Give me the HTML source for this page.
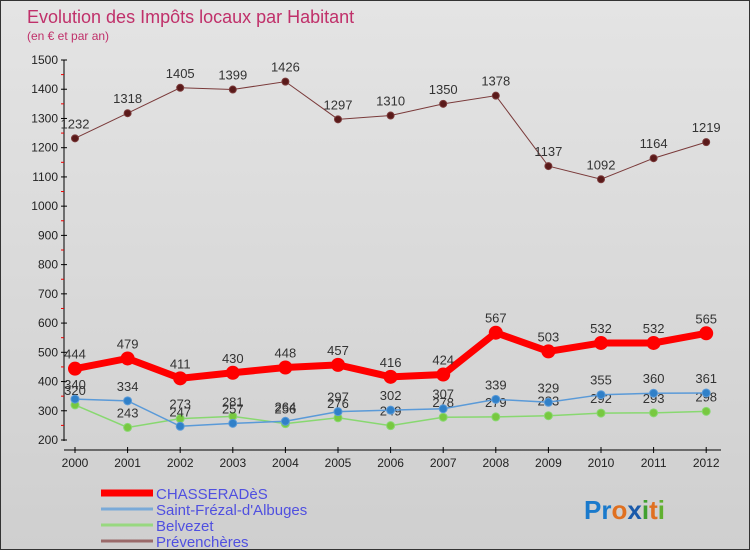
<!DOCTYPE html>
<html><head><meta charset="utf-8"><style>
body{margin:0;width:750px;height:550px;overflow:hidden}
#wrap{position:relative;width:748px;height:548px;border:1px solid #333;background:linear-gradient(#e4e4e4,#cfcfcf)}
text{font-family:"Liberation Sans",sans-serif}
</style></head><body>
<div id="wrap">
<svg id="c" width="748" height="548"></svg>
</div>
<script>
const years=["2000","2001","2002","2003","2004","2005","2006","2007","2008","2009","2010","2011","2012"];
const chass=[444,479,411,430,448,457,416,424,567,503,532,532,565];
const frezal=[340,334,247,257,264,297,302,307,339,329,355,360,361];
const belv=[320,243,273,281,256,276,249,278,279,283,292,293,298];
const prev=[1232,1318,1405,1399,1426,1297,1310,1350,1378,1137,1092,1164,1219];
const yTicks=[200,300,400,500,600,700,800,900,1000,1100,1200,1300,1400,1500];
const NS="http://www.w3.org/2000/svg";
const svg=document.getElementById('c');
function X(i){return 74+i*52.6;}
function Y(v){return 439-(v-200)*380/1300;}
function mk(t,a,p){const e=document.createElementNS(NS,t);for(const k in a)e.setAttribute(k,a[k]);(p||svg).appendChild(e);return e;}
function txt(x,y,s,a){const e=mk('text',Object.assign({x:x,y:y},a));e.textContent=s;return e;}
let t=txt(26,22,"Evolution des Impôts locaux par Habitant",{fill:"#c0306a","font-size":18});

t=txt(26,39,"(en € et par an)",{fill:"#c0306a","font-size":12});

let ax=mk('line',{x1:63,y1:Y(1500),x2:63,y2:Y(200)+1,stroke:"#000"});

ax=mk('line',{x1:63,y1:449,x2:720,y2:449,stroke:"#000"});

yTicks.forEach(v=>{
 mk('line',{x1:60,y1:Y(v),x2:66,y2:Y(v),stroke:"#000"});
 if(v<1500) mk('line',{x1:60,y1:Y(v+50),x2:63,y2:Y(v+50),stroke:"#e00"});
 const l=txt(57,Y(v)+4,String(v),{fill:"#222","font-size":12,"text-anchor":"end"});
 
});
years.forEach((y,i)=>{
 mk('line',{x1:X(i),y1:446,x2:X(i),y2:452,stroke:"#000"});
 const l=txt(X(i),466,y,{fill:"#222","font-size":12,"text-anchor":"middle"});
 
});
function series(vals,col,w,r,dot,name){
 const g=mk('g',{});
 
 mk('polyline',{points:vals.map((v,i)=>X(i)+","+Y(v)).join(" "),fill:"none",stroke:col,"stroke-width":w},g);
 vals.forEach((v,i)=>{
  const c=mk('circle',{cx:X(i),cy:Y(v),r:r,fill:dot,stroke:col,"stroke-width":1},g);
  
  const l=txt(X(i),Y(v)-10,String(v),{fill:"#333","font-size":13,"text-anchor":"middle"},g);
  
 });
}
series(prev,"#7a3a3a",1,3.5,"#5a1a1a","series-prevencheres");
series(belv,"#88d870",1.5,4,"#78c840","series-belvezet");
series(frezal,"#5a9ad8",1.5,4,"#3080c8","series-saint-frezal");
series(chass,"#f00",7,6.5,"#f00","series-chasseradès");
const leg=[["CHASSERADèS","#f00",7],["Saint-Frézal-d'Albuges","#7aaad8",3],["Belvezet","#98d880",3],["Prévenchères","#9a6a6a",3]];
leg.forEach((l,i)=>{
 const g=mk('g',{});
 const y=492+i*16;
 mk('line',{x1:100,y1:y,x2:152,y2:y,stroke:l[1],"stroke-width":l[2]},g);
 txt(155,y+6,l[0],{fill:"#5050e0","font-size":15},g);
});
const lg=mk('g',{});
const lt=mk('text',{x:583,y:518,"font-size":26,"font-weight":"bold"},lg);
[["Pr","#1a7acc"],["o","#e07020"],["x","#1a5aaa"],["i","#40a030"],["t","#e07020"],["i","#60b030"]].forEach(p=>{const s=mk('tspan',{fill:p[1]},lt);s.textContent=p[0];});
</script>
</body></html>
